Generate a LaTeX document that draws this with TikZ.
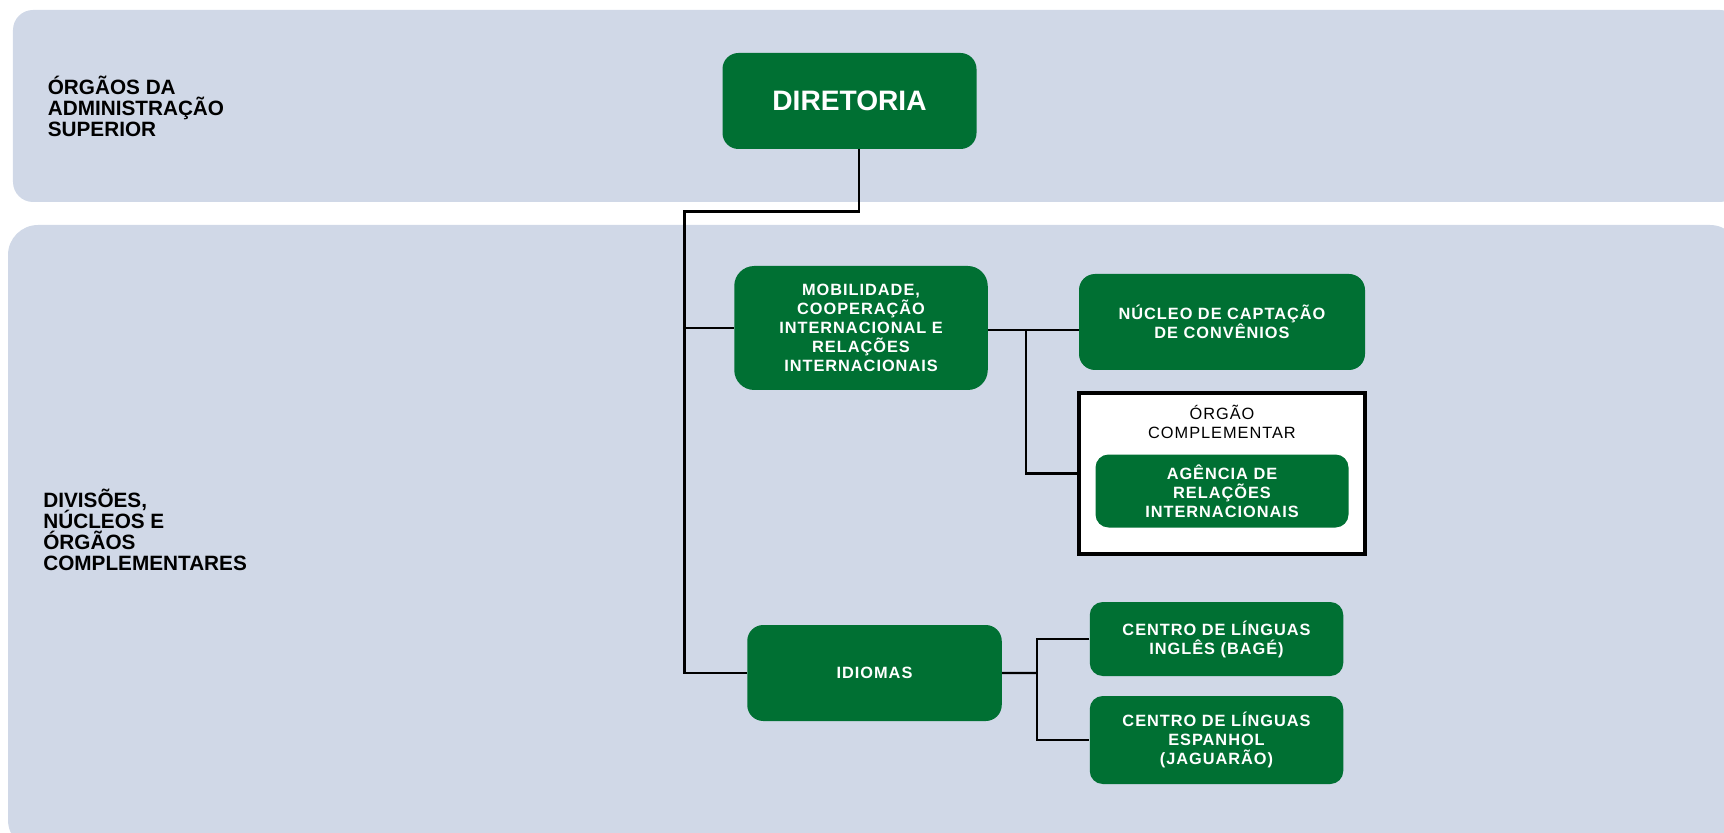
\documentclass[tikz,border=0pt]{standalone}
\usepackage{fontspec}
\setmainfont{Liberation Sans}
\newfontfamily\boxfont[LetterSpace=6]{Liberation Sans}
\definecolor{unitgreen}{RGB}{0,112,51}
\definecolor{panelblue}{RGB}{208,216,231}
\newcommand{\levelfont}{\bfseries\fontsize{11.8}{12}\selectfont\lineskiplimit=-20pt\relax}

\tikzstyle{panel} = [fill=panelblue]
\tikzstyle{unit} = [rectangle, rounded corners=0.32cm, fill=unitgreen, text=white, align=center, minimum width=5.07cm, minimum height=1.92cm, inner sep=0pt, font=\boxfont\bfseries\fontsize{9.3}{10.8}\selectfont]
\tikzstyle{frame} = [rectangle, draw=black, fill=white, line width=1.8pt, minimum width=5.72cm, minimum height=3.22cm]
\tikzstyle{level} = [anchor=west, align=left, inner sep=0pt, font=\levelfont]
\tikzstyle{link} = [line width=1.2pt]

\begin{document}
\begin{tikzpicture}
  \path [use as bounding box, clip] (0,0) rectangle (34.48,-16.66);
  \fill [panel, rounded corners=0.4cm] (0.26,-0.2) rectangle (34.8,-4.04);
  \fill [panel, rounded corners=0.6cm] (0.16,-4.5) rectangle (34.8,-17.0);

  \node (Superior) [level] at (0.95,-2.12) {ÓRGÃOS DA\\ADMINISTRAÇÃO\\SUPERIOR};
  \node (Complementares) [level] at (0.86,-10.6) {DIVISÕES,\\NÚCLEOS E\\ÓRGÃOS\\COMPLEMENTARES};

  \node (Diretoria) [unit, minimum width=5.08cm, font=\bfseries\fontsize{16}{18}\selectfont] at (16.99,-2.02) {DIRETORIA};
  \node (Mobilidade) [unit, minimum height=2.48cm, rounded corners=0.4cm, below of=Diretoria, yshift=-3.54cm, xshift=0.23cm] {MOBILIDADE,\\COOPERAÇÃO\\INTERNACIONAL E\\RELAÇÕES\\INTERNACIONAIS};
  \node (Nucleo) [unit, minimum width=5.72cm, right of=Mobilidade, xshift=6.22cm, yshift=0.12cm] {NÚCLEO DE CAPTAÇÃO\\DE CONVÊNIOS};
  \node (Orgao) [frame, below of=Nucleo, yshift=-2.03cm] {};
  \node (Orgao Titulo) [anchor=north, yshift=-0.26cm, align=center, inner sep=0pt, font=\boxfont\fontsize{9.3}{10.8}\selectfont] at (Orgao.north) {ÓRGÃO\\COMPLEMENTAR};
  \node (Agencia) [unit, minimum width=5.06cm, minimum height=1.46cm, rounded corners=0.26cm, below of=Orgao, yshift=0.65cm] {AGÊNCIA DE\\RELAÇÕES\\INTERNACIONAIS};
  \node (Idiomas) [unit, minimum width=5.09cm, below of=Mobilidade, yshift=-5.9cm, xshift=0.27cm] {IDIOMAS};
  \node (Ingles) [unit, minimum height=1.48cm, rounded corners=0.26cm, right of=Idiomas, xshift=5.84cm, yshift=0.68cm] {CENTRO DE LÍNGUAS\\INGLÊS (BAGÉ)};
  \node (Espanhol) [unit, minimum height=1.76cm, rounded corners=0.26cm, below of=Ingles, yshift=-1.02cm] {CENTRO DE LÍNGUAS\\ESPANHOL\\(JAGUARÃO)};

  \coordinate (Trunk) at (13.69,-4.23);
  \coordinate (Split Mobilidade) at (20.52,-6.6);
  \coordinate (Split Idiomas) at (20.74,-13.46);

  \draw [link] ([xshift=0.19cm]Diretoria.south) |- (Trunk) |- (Idiomas.west);
  \draw [link] (Trunk |- Mobilidade.west) -- (Mobilidade.west);
  \draw [link] (Mobilidade.east |- Split Mobilidade) -- (Split Mobilidade -| Nucleo.west);
  \draw [link] (Split Mobilidade) |- (Orgao.west);
  \draw [link] (Idiomas.east) -- (Split Idiomas);
  \draw [link] (Ingles.west) -| (Split Idiomas) |- (Espanhol.west);
\end{tikzpicture}
\end{document}
